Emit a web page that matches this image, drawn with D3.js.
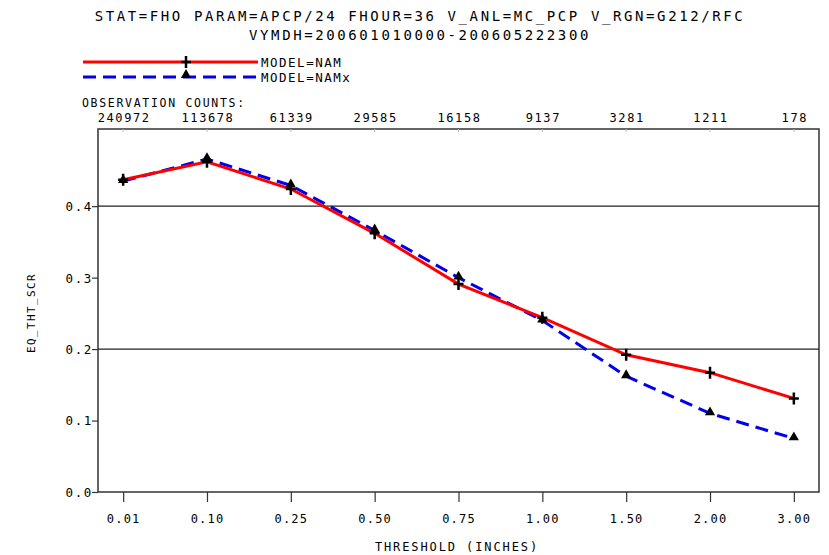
<!DOCTYPE html>
<html><head><meta charset="utf-8">
<script src="https://cdn.jsdelivr.net/npm/d3@7"></script>
<style>
body{margin:0;background:#fff;}
text{font-family:"DejaVu Sans Mono",monospace;fill:#000;}
</style></head>
<body><svg id="c" width="829" height="555"></svg>
<script>
const thresholds = ["0.01","0.10","0.25","0.50","0.75","1.00","1.50","2.00","3.00"];
const obsCounts = ["240972","113678","61339","29585","16158","9137","3281","1211","178"];
const namValues  = [0.437,0.462,0.424,0.362,0.291,0.244,0.192,0.167,0.131];
const namxValues = [0.435,0.466,0.429,0.366,0.300,0.240,0.162,0.110,0.075];
const yTicks = [0.0,0.1,0.2,0.3,0.4];
const yGrid = [0.2,0.4];
const titleLines = ["STAT=FHO PARAM=APCP/24 FHOUR=36 V_ANL=MC_PCP V_RGN=G212/RFC","VYMDH=200601010000-200605222300"];
const seriesNames = ["MODEL=NAM","MODEL=NAMx"];

const svg = d3.select("#c");
const L=98, R=819, T=129, B=492;
const x = d3.scalePoint().domain(thresholds).range([L,R]).padding(0.3);
const y = d3.scaleLinear().domain([0,0.508]).range([B,T]);

// titles
svg.selectAll("text.title").data(titleLines).enter().append("text")
  .attr("x",420).attr("y",(d,i)=>21+i*19).attr("text-anchor","middle")
  .style("font-size","14px").style("letter-spacing","2.6px").text(d=>d);

// frame
svg.append("rect").attr("x",L).attr("y",T).attr("width",R-L).attr("height",B-T)
  .attr("fill","none").attr("stroke","#333").attr("stroke-width",1.5);

// grid lines
svg.selectAll("line.grid").data(yGrid).enter().append("line")
  .attr("x1",L).attr("x2",R).attr("y1",d=>y(d)).attr("y2",d=>y(d))
  .attr("stroke","#222").attr("stroke-width",1.2);

// left axis
const yAxis = d3.axisLeft(y).tickValues(yTicks).tickSize(6).tickFormat(d3.format(".1f"));
const ga = svg.append("g").attr("transform",`translate(${L},0)`).call(yAxis);
ga.select(".domain").remove();
ga.selectAll("line").attr("stroke","#333").attr("stroke-width",1.2);
ga.selectAll("text").style("font-size","12.5px").style("letter-spacing","1.6px").attr("x",-5).attr("dy","0.35em");

// bottom axis
const xAxis = d3.axisBottom(x).tickSize(10).tickPadding(12);
const gb = svg.append("g").attr("transform",`translate(0,${B})`).call(xAxis);
gb.select(".domain").remove();
gb.selectAll("line").attr("stroke","#333").attr("stroke-width",1.2);
gb.selectAll("text").style("font-size","12px").style("letter-spacing","1.2px");

// top minor ticks
svg.selectAll("line.tt").data(thresholds).enter().append("line")
  .attr("x1",d=>x(d)).attr("x2",d=>x(d)).attr("y1",T).attr("y2",T+3)
  .attr("stroke","#bbb").attr("stroke-width",1);

// observation counts
svg.append("text").attr("x",82).attr("y",107).style("font-size","11.5px").style("letter-spacing","1.7px").text("OBSERVATION COUNTS:");
svg.selectAll("text.cnt").data(obsCounts).enter().append("text")
  .attr("x",(d,i)=>x(thresholds[i])+1).attr("y",122).attr("text-anchor","middle")
  .style("font-size","12px").style("letter-spacing","1.6px").text(d=>d);

// axis titles
svg.append("text").attr("x",457).attr("y",551).attr("text-anchor","middle")
  .style("font-size","12px").style("letter-spacing","1.9px").text("THRESHOLD (INCHES)");
svg.append("text").attr("transform","translate(35,313) rotate(-90)").attr("text-anchor","middle")
  .style("font-size","11px").style("letter-spacing","1.4px").text("EQ_THT_SCR");

// lines
const line = d3.line().x((d,i)=>x(thresholds[i])).y(d=>y(d));
svg.append("path").datum(namxValues).attr("d",line).attr("fill","none")
  .attr("stroke","#0000ee").attr("stroke-width",3).attr("stroke-dasharray","13,7");
svg.append("path").datum(namValues).attr("d",line).attr("fill","none")
  .attr("stroke","#ff0000").attr("stroke-width",3);

const tri = d3.symbol().type(d3.symbolTriangle).size(45);
function plus(g,cx,cy){
  g.append("path").attr("d",`M${cx-5},${cy}H${cx+5}M${cx},${cy-6}V${cy+6}`)
   .attr("stroke","#000").attr("stroke-width",2.5).attr("fill","none");
}
svg.selectAll("path.tri").data(namxValues).enter().append("path")
  .attr("d",tri).attr("transform",(d,i)=>`translate(${x(thresholds[i])},${y(d)-1})`).attr("fill","#000");
namValues.forEach((d,i)=>plus(svg,x(thresholds[i]),y(d)));

// legend
svg.append("line").attr("x1",83).attr("x2",258).attr("y1",62).attr("y2",62).attr("stroke","#ff0000").attr("stroke-width",3);
plus(svg,186,62);
svg.append("line").attr("x1",83).attr("x2",258).attr("y1",77).attr("y2",77).attr("stroke","#0000ee").attr("stroke-width",3).attr("stroke-dasharray","13,7");
svg.append("path").attr("d",tri).attr("transform","translate(186,75)").attr("fill","#000");
svg.selectAll("text.leg").data(seriesNames).enter().append("text")
  .attr("x",261).attr("y",(d,i)=>67+i*15).style("font-size","12.5px").style("letter-spacing","1.5px").text(d=>d);
</script></body></html>
